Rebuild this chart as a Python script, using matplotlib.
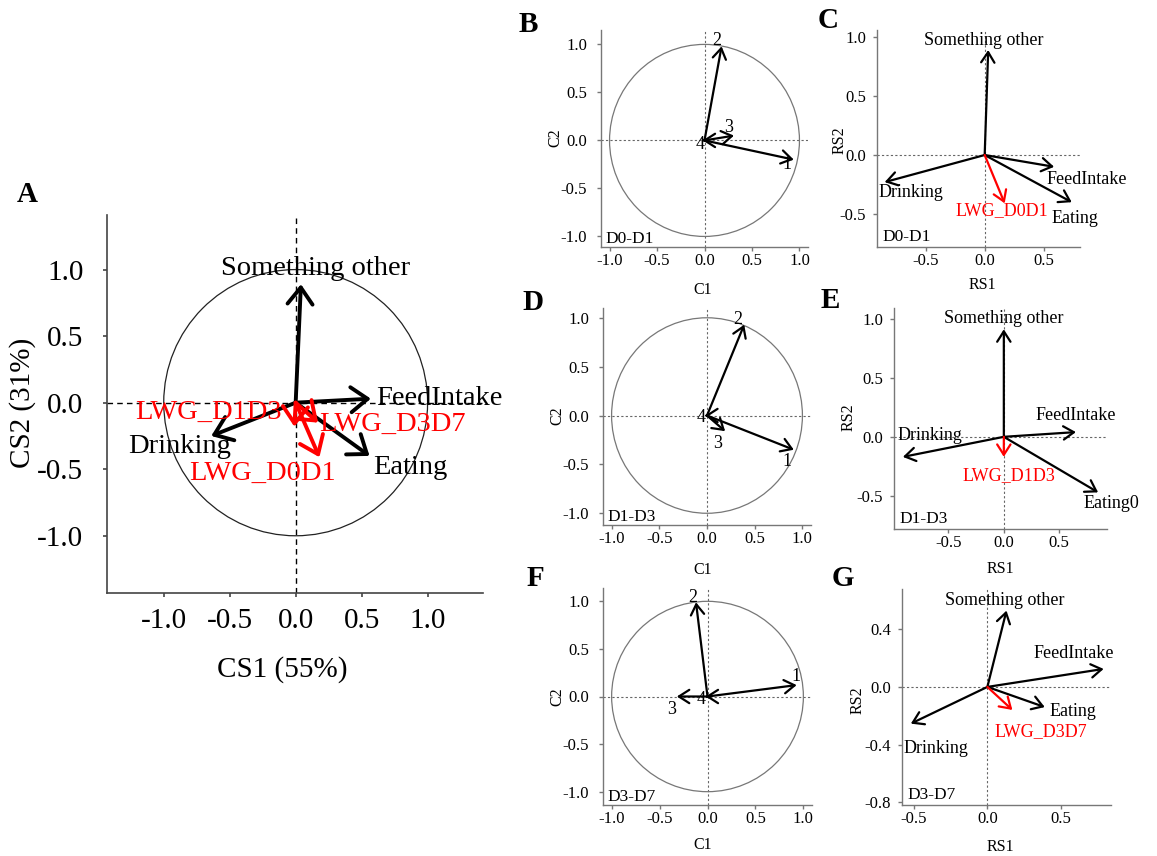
import matplotlib
matplotlib.use("Agg")
import matplotlib.pyplot as plt
from matplotlib.patches import Circle

plt.rcParams['font.family'] = ['Liberation Serif', 'DejaVu Serif']
plt.rcParams['axes.unicode_minus'] = False

W, H = 1157, 856

# ---- panel A : overall canonical structure ----
a_vars = ["Something other", "FeedIntake", "Eating", "Drinking"]
a_x = [0.04, 0.57, 0.56, -0.64]
a_y = [0.89, 0.03, -0.40, -0.25]
a_lwg = ["LWG_D0D1", "LWG_D1D3", "LWG_D3D7"]
a_lwg_x = [0.18, -0.01, 0.17]
a_lwg_y = [-0.41, -0.18, -0.15]

# ---- circle panels (B, D, F) ----
circ_labels = ["1", "2", "3", "4"]
b_x = [0.94, 0.18, 0.31, -0.02]
b_y = [-0.20, 0.98, 0.05, 0.0]
d_x = [0.91, 0.39, 0.19, -0.02]
d_y = [-0.35, 0.93, -0.16, 0.0]
f_x = [0.93, -0.12, -0.32, -0.02]
f_y = [0.12, 0.99, 0.0, 0.0]

# ---- RS panels (C, E, G) ----
c_vars = ["Something other", "FeedIntake", "Eating", "Drinking"]
c_x = [0.03, 0.59, 0.74, -0.85]
c_y = [0.89, -0.10, -0.40, -0.23]
c_lwg, c_lwg_x, c_lwg_y = "LWG_D0D1", 0.17, -0.41

e_vars = ["Something other", "FeedIntake", "Eating0", "Drinking"]
e_x = [0.0, 0.65, 0.85, -0.91]
e_y = [0.91, 0.04, -0.47, -0.17]
e_lwg, e_lwg_x, e_lwg_y = "LWG_D1D3", 0.0, -0.17

g_vars = ["Something other", "FeedIntake", "Eating", "Drinking"]
g_x = [0.13, 0.79, 0.39, -0.52]
g_y = [0.53, 0.125, -0.14, -0.255]
g_lwg, g_lwg_x, g_lwg_y = "LWG_D3D7", 0.17, -0.16

periods = ["D0-D1", "D1-D3", "D3-D7"]


def rect(l, t, r, b):
    return [l / W, 1 - b / H, (r - l) / W, (b - t) / H]


def to_ax(r, x, y):
    l, t, rr, b = r
    return (x - l) / (rr - l), (b - y) / (b - t)


def style_axes(ax, spine_col, lw, tick_size, pad_x, pad_y):
    for s in ['top', 'right']:
        ax.spines[s].set_visible(False)
    for s in ['left', 'bottom']:
        ax.spines[s].set_color(spine_col)
        ax.spines[s].set_linewidth(lw)
    ax.tick_params(axis='both', direction='out', length=3, width=lw,
                   color=spine_col, labelsize=tick_size)
    ax.tick_params(axis='x', pad=pad_x)
    ax.tick_params(axis='y', pad=pad_y)


def arrow(ax, x, y, color='black', lw=1.5, hl=0.5, hw=0.3, ms=15):
    ax.annotate('', xy=(x, y), xytext=(0, 0),
                arrowprops=dict(arrowstyle='->,head_length=%s,head_width=%s' % (hl, hw),
                                color=color, lw=lw, shrinkA=0, shrinkB=0,
                                mutation_scale=ms))


def labels_px(ax, r, xl, xpos, yl, ypos, size):
    ax.set_xlabel(xl, fontsize=size, va='center')
    ax.xaxis.set_label_coords(*to_ax(r, *xpos))
    ax.set_ylabel(yl, fontsize=size, va='center')
    ax.yaxis.set_label_coords(*to_ax(r, *ypos))


fig = plt.figure(figsize=(W / 100, H / 100), dpi=100)

# ================= A =================
rA = (107, 215, 483, 593)
axA = fig.add_axes(rect(*rA))
axA.set_xlim(-1.43, 1.42)
axA.set_ylim(-1.43, 1.41)
style_axes(axA, '#444444', 1.2, 21, 8, 14)
axA.set_xticks([-1, -0.5, 0, 0.5, 1])
axA.set_yticks([-1, -0.5, 0, 0.5, 1])
axA.set_xticklabels(['%.1f' % v for v in axA.get_xticks()])
axA.set_yticklabels(['%.1f' % v for v in axA.get_yticks()])
axA.axhline(0, color='black', lw=1, ls=(0, (4, 3)), zorder=1)
axA.axvline(0, color='black', lw=1, ls=(0, (4, 3)), zorder=1)
axA.add_patch(Circle((0, 0), 1, fill=False, color='#222222', lw=0.9))
for x, y in zip(a_x, a_y):
    arrow(axA, x, y, lw=2.8, hl=0.6, hw=0.45, ms=20)
for x, y in zip(a_lwg_x, a_lwg_y):
    arrow(axA, x, y, color='red', lw=2.8, hl=0.6, hw=0.45, ms=20)
a_lab_pos = {"Something other": (0.15, 1.01, 'center'),
             "FeedIntake": (0.61, 0.03, 'left'),
             "Eating": (0.59, -0.49, 'left'),
             "Drinking": (-0.88, -0.33, 'center')}
for name in a_vars:
    px, py, ha = a_lab_pos[name]
    axA.text(px, py, name, fontsize=20.5, ha=ha, va='center', clip_on=False)
a_lwg_pos = {"LWG_D0D1": (-0.25, -0.53, 'center'),
             "LWG_D1D3": (-0.66, -0.075, 'center'),
             "LWG_D3D7": (0.18, -0.16, 'left')}
for name in a_lwg:
    px, py, ha = a_lwg_pos[name]
    axA.text(px, py, name, fontsize=20.5, ha=ha, va='center', color='red', clip_on=False)
labels_px(axA, rA, 'CS1 (55%)', (282, 670), 'CS2 (31%)', (23, 403), 21)
fig.text(27 / W, 1 - 195 / H, 'A', fontsize=21, fontweight='bold', ha='center', va='center')

# ================= circle panels =================
circ_panels = [
    ('B', (601, 30, 808, 247), b_x, b_y, periods[0], (-1.09, 1.09), (-1.11, 1.15),
     {"1": (0.87, -0.25), "2": (0.13, 1.04), "3": (0.25, 0.13), "4": (-0.05, -0.04)},
     (703, 290), (555, 138), (528, 25)),
    ('D', (603, 308, 811, 525), d_x, d_y, periods[1], (-1.09, 1.09), (-1.12, 1.10),
     {"1": (0.84, -0.47), "2": (0.32, 0.98), "3": (0.11, -0.29), "4": (-0.06, -0.02)},
     (703, 570), (557, 416), (533, 302)),
    ('F', (603, 588, 812, 805), f_x, f_y, periods[2], (-1.09, 1.09), (-1.14, 1.14),
     {"1": (0.92, 0.21), "2": (-0.15, 1.04), "3": (-0.37, -0.14), "4": (-0.07, -0.03)},
     (703, 845), (557, 697), (535, 578)),
]
for letter, r, xs, ys, per, xl, yl, lpos, xlab, ylab, lp in circ_panels:
    ax = fig.add_axes(rect(*r))
    ax.set_xlim(*xl)
    ax.set_ylim(*yl)
    style_axes(ax, '#777777', 1.0, 12, 1.5, 7)
    ticks = [-1, -0.5, 0, 0.5, 1]
    ax.set_xticks(ticks)
    ax.set_yticks(ticks)
    ax.set_xticklabels(['%.1f' % v for v in ticks])
    ax.set_yticklabels(['%.1f' % v for v in ticks])
    ax.axhline(0, color='#666666', lw=0.8, ls=(0, (2, 2)), zorder=1)
    ax.axvline(0, color='#666666', lw=0.8, ls=(0, (2, 2)), zorder=1)
    ax.add_patch(Circle((0, 0), 1, fill=False, color='#777777', lw=0.9))
    for x, y in zip(xs, ys):
        arrow(ax, x, y, lw=1.6, hl=0.5, hw=0.32, ms=15)
    for name in circ_labels:
        px, py = lpos[name]
        ax.text(px, py, name, fontsize=13, ha='center', va='center', clip_on=False)
    ax.text(0.02, 0.0, per, transform=ax.transAxes, fontsize=12.5, ha='left', va='bottom')
    labels_px(ax, r, 'C1', xlab, 'C2', ylab, 11.5)
    fig.text(lp[0] / W, 1 - lp[1] / H, letter, fontsize=21, fontweight='bold',
             ha='center', va='center')

# ================= RS panels =================
rs_panels = [
    ('C', (877, 30, 1080, 247), c_vars, c_x, c_y, c_lwg, c_lwg_x, c_lwg_y, periods[0],
     (-0.915, 0.81), (-0.78, 1.06), [-0.5, 0, 0.5], [-0.5, 0, 0.5, 1.0],
     {"Something other": (-0.01, 0.97), "FeedIntake": (0.87, -0.21),
      "Eating": (0.77, -0.54), "Drinking": (-0.63, -0.32), "LWG": (0.15, -0.47)},
     (982, 285), (840, 140), (828, 20)),
    ('E', (894, 308, 1107, 529), e_vars, e_x, e_y, e_lwg, e_lwg_x, e_lwg_y, periods[1],
     (-0.99, 0.93), (-0.78, 1.09), [-0.5, 0, 0.5], [-0.5, 0, 0.5, 1.0],
     {"Something other": (0.0, 1.0), "FeedIntake": (0.65, 0.18),
      "Eating0": (0.97, -0.56), "Drinking": (-0.67, 0.01), "LWG": (0.05, -0.33)},
     (1000, 569), (849, 417), (830, 300)),
    ('G', (902, 589, 1111, 805), g_vars, g_x, g_y, g_lwg, g_lwg_x, g_lwg_y, periods[2],
     (-0.58, 0.84), (-0.82, 0.68), [-0.5, 0, 0.5], [-0.8, -0.4, 0, 0.4],
     {"Something other": (0.12, 0.60), "FeedIntake": (0.59, 0.23),
      "Eating": (0.58, -0.17), "Drinking": (-0.35, -0.43), "LWG": (0.36, -0.31)},
     (1000, 847), (858, 700), (843, 578)),
]
for (letter, r, names, xs, ys, lwg, lx, ly, per, xl, yl, xt, yt, lpos,
     xlab, ylab, lp) in rs_panels:
    ax = fig.add_axes(rect(*r))
    ax.set_xlim(*xl)
    ax.set_ylim(*yl)
    style_axes(ax, '#777777', 1.0, 12, 1.5, 5)
    ax.set_xticks(xt)
    ax.set_yticks(yt)
    ax.set_xticklabels(['%.1f' % v for v in xt])
    ax.set_yticklabels(['%.1f' % v for v in yt])
    ax.axhline(0, color='#666666', lw=0.8, ls=(0, (2, 2)), zorder=1)
    ax.axvline(0, color='#666666', lw=0.8, ls=(0, (2, 2)), zorder=1)
    for x, y in zip(xs, ys):
        arrow(ax, x, y, lw=1.6, hl=0.5, hw=0.32, ms=15)
    arrow(ax, lx, ly, color='red', lw=1.6, hl=0.5, hw=0.32, ms=15)
    for name in names:
        px, py = lpos[name]
        ax.text(px, py, name, fontsize=13, ha='center', va='center', clip_on=False)
    px, py = lpos["LWG"]
    ax.text(px, py, lwg, fontsize=13, ha='center', va='center', color='red', clip_on=False)
    ax.text(0.025, 0.01, per, transform=ax.transAxes, fontsize=12.5, ha='left', va='bottom')
    labels_px(ax, r, 'RS1', xlab, 'RS2', ylab, 11.5)
    fig.text(lp[0] / W, 1 - lp[1] / H, letter, fontsize=21, fontweight='bold',
             ha='center', va='center')

fig.savefig('out.png', dpi=100)
